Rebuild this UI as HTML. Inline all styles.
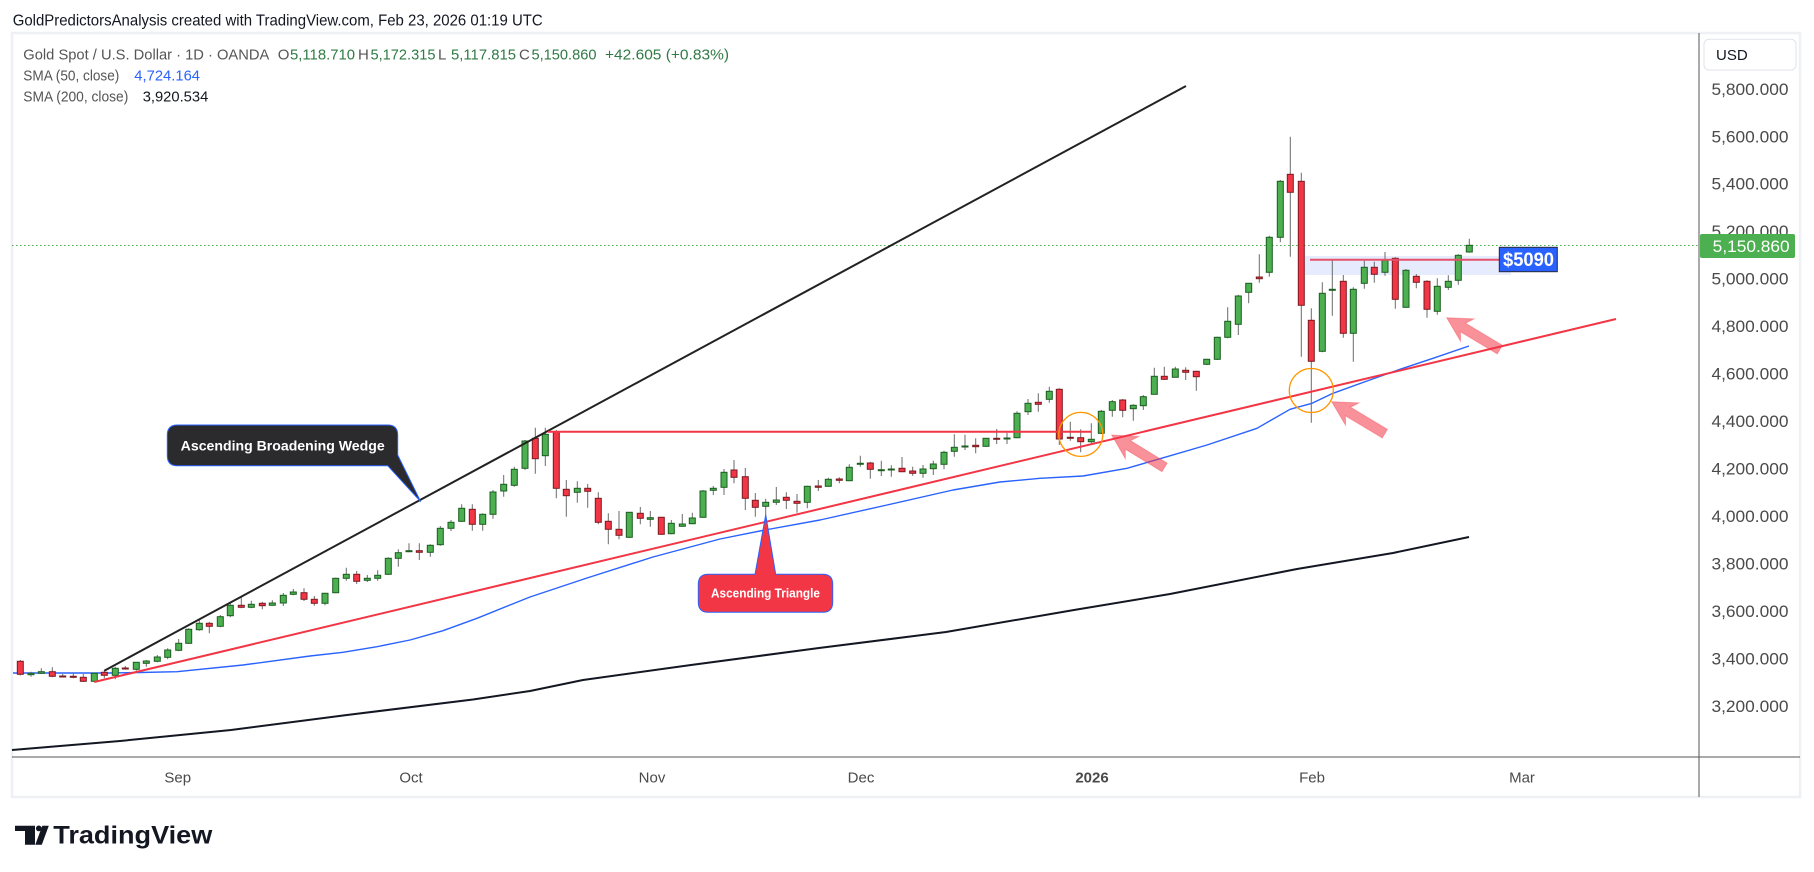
<!DOCTYPE html>
<html>
<head>
<meta charset="utf-8">
<style>
html,body{margin:0;padding:0;background:#ffffff;}
svg{display:block;font-family:"Liberation Sans",Arial,sans-serif;}
</style>
</head>
<body>
<svg width="1814" height="872" viewBox="0 0 1814 872" xmlns="http://www.w3.org/2000/svg">
<rect x="0" y="0" width="1814" height="872" fill="#ffffff"/>

<!-- header -->
<text x="12.7" y="25.5" font-size="16" fill="#131722" textLength="530" lengthAdjust="spacingAndGlyphs">GoldPredictorsAnalysis created with TradingView.com, Feb 23, 2026 01:19 UTC</text>

<!-- panel -->
<rect x="12" y="33" width="1788" height="764" fill="#ffffff" stroke="#eef0f3" stroke-width="2.5"/>

<!-- legend -->
<g font-size="15">
<text x="23.3" y="59.5" fill="#555555" textLength="246" lengthAdjust="spacingAndGlyphs">Gold Spot / U.S. Dollar · 1D · OANDA</text>
<text x="277.7" y="59.5" fill="#555555">O</text>
<text x="290" y="59.5" fill="#2f7a45" textLength="65" lengthAdjust="spacingAndGlyphs">5,118.710</text>
<text x="358" y="59.5" fill="#555555">H</text>
<text x="370.5" y="59.5" fill="#2f7a45" textLength="65" lengthAdjust="spacingAndGlyphs">5,172.315</text>
<text x="438" y="59.5" fill="#555555">L</text>
<text x="451" y="59.5" fill="#2f7a45" textLength="65" lengthAdjust="spacingAndGlyphs">5,117.815</text>
<text x="519" y="59.5" fill="#555555">C</text>
<text x="531.5" y="59.5" fill="#2f7a45" textLength="65" lengthAdjust="spacingAndGlyphs">5,150.860</text>
<text x="605" y="59.5" fill="#2f7a45" textLength="124" lengthAdjust="spacingAndGlyphs">+42.605 (+0.83%)</text>
<text x="23.3" y="80.7" fill="#555555" textLength="96" lengthAdjust="spacingAndGlyphs">SMA (50, close)</text>
<text x="134.3" y="80.7" fill="#2962ff" textLength="65.7" lengthAdjust="spacingAndGlyphs">4,724.164</text>
<text x="23.3" y="101.7" fill="#555555" textLength="105" lengthAdjust="spacingAndGlyphs">SMA (200, close)</text>
<text x="142.7" y="101.7" fill="#131722" textLength="65.6" lengthAdjust="spacingAndGlyphs">3,920.534</text>
</g>

<!-- axes lines -->
<line x1="1699" y1="33" x2="1699" y2="797" stroke="#555555" stroke-width="1"/>
<line x1="12" y1="757" x2="1800" y2="757" stroke="#555555" stroke-width="1"/>

<!-- price axis -->
<rect x="1704" y="39.3" width="92" height="30.7" rx="5" fill="#ffffff" stroke="#e0e3eb" stroke-width="1"/>
<text x="1716" y="60" font-size="15" fill="#131722">USD</text>
<g font-size="16.5" fill="#4a4a4a">
<text x="1711.5" y="94.8" textLength="77" lengthAdjust="spacingAndGlyphs">5,800.000</text>
<text x="1711.5" y="142.3" textLength="77" lengthAdjust="spacingAndGlyphs">5,600.000</text>
<text x="1711.5" y="189.7" textLength="77" lengthAdjust="spacingAndGlyphs">5,400.000</text>
<text x="1711.5" y="237.2" textLength="77" lengthAdjust="spacingAndGlyphs">5,200.000</text>
<text x="1711.5" y="284.6" textLength="77" lengthAdjust="spacingAndGlyphs">5,000.000</text>
<text x="1711.5" y="332.1" textLength="77" lengthAdjust="spacingAndGlyphs">4,800.000</text>
<text x="1711.5" y="379.6" textLength="77" lengthAdjust="spacingAndGlyphs">4,600.000</text>
<text x="1711.5" y="427" textLength="77" lengthAdjust="spacingAndGlyphs">4,400.000</text>
<text x="1711.5" y="474.5" textLength="77" lengthAdjust="spacingAndGlyphs">4,200.000</text>
<text x="1711.5" y="521.9" textLength="77" lengthAdjust="spacingAndGlyphs">4,000.000</text>
<text x="1711.5" y="569.4" textLength="77" lengthAdjust="spacingAndGlyphs">3,800.000</text>
<text x="1711.5" y="616.8" textLength="77" lengthAdjust="spacingAndGlyphs">3,600.000</text>
<text x="1711.5" y="664.3" textLength="77" lengthAdjust="spacingAndGlyphs">3,400.000</text>
<text x="1711.5" y="711.8" textLength="77" lengthAdjust="spacingAndGlyphs">3,200.000</text>
</g>
<rect x="1700" y="234" width="95" height="24" rx="2" fill="#4caf50"/>
<text x="1712.7" y="252" font-size="16.5" fill="#ffffff" textLength="77" lengthAdjust="spacingAndGlyphs">5,150.860</text>

<!-- time axis -->
<g font-size="15" fill="#4a4a4a" text-anchor="middle">
<text x="177.7" y="782.5">Sep</text>
<text x="411" y="782.5">Oct</text>
<text x="652" y="782.5">Nov</text>
<text x="861" y="782.5">Dec</text>
<text x="1092" y="782.5" font-weight="bold">2026</text>
<text x="1312" y="782.5">Feb</text>
<text x="1522" y="782.5">Mar</text>
</g>

<!-- current price dotted line -->
<line x1="12" y1="245.5" x2="1699" y2="245.5" stroke="#4caf50" stroke-width="1" stroke-dasharray="1.5 2.5"/>

<!-- resistance zone -->
<rect x="1305" y="256" width="206" height="19" fill="#e6ecfd"/>

<!-- SMA 200 -->
<polyline fill="none" stroke="#131722" stroke-width="2" stroke-linejoin="round" points="12,750 120,741 231,730 347,715 473,699.5 530,691 583,680 691,665 819,648 946,632 1074,610 1170,594 1297,569 1393,553 1469,537"/>
<!-- SMA 50 -->
<polyline fill="none" stroke="#2962ff" stroke-width="1.4" stroke-linejoin="round" points="13,673 110,673 140,672.5 177,671.7 243,665 310,656 343,652.3 377,646.7 410,640 443,630.7 477,618.3 510,605 530,597 587,578 653,557 720,539 765,530 820,520 887,505 953,490 1000,482 1040,478.3 1083,476 1127,468.3 1167,456.7 1207,445 1257,428.3 1290,409.3 1312,403.3 1333,393.3 1367,381 1400,369.3 1433,358.3 1469,346"/>

<!-- wicks -->
<path fill="none" stroke="#6a6a6a" stroke-width="1" d="M20.3 660V675.5M31 671.7V676.7M41.3 668.3V674M52.3 667.3V677.3M62.7 674V677.3M73.3 672.7V678.3M83.3 674V682M94.3 672.7V682M104.3 670V678.3M115.3 666.7V679.3M125.3 666V669.7M136.3 662.3V670.7M146.3 660V666.7M157.3 655V662.3M167.7 648.3V659.3M178.7 639V651.3M188.7 628.3V644M199.3 620V630.7M209.3 621.7V633.3M220.3 615V627.3M230.3 602.7V617.3M241.3 596V608.3M251.3 600.7V608.3M262.3 601.7V609.3M272.3 600.3V605.7M283.3 593V606M293.3 589V595.3M304 588.3V601M314.3 596V605.7M325 592.7V605.3M335.7 577.7V593.3M346.3 567.7V580.7M356.7 571V584M367.3 575V582M377.7 570.3V580.7M388.3 557.3V575M398.3 549.3V566.7M409 543.3V552.3M419.3 543.3V560M430.3 544.3V556.7M440.3 526V545.7M451 520V531M461.7 504.3V522M472.3 504.3V530.7M482.7 513.3V530.7M493 490V518.7M503.7 475V496.7M514.3 466.7V486.7M525 440V470M535.3 427.7V473.7M545.3 427.7V466M556.3 430V498.3M566.3 480V516.7M577.3 481.3V502.7M587.7 484V507.7M598.3 492.3V524.3M608.3 513.3V544.3M619 511V539.3M629.3 512.3V538M640.3 507V524.3M650.3 511V526.7M661.3 516.7V535M671.3 520V534.3M682.3 514V526.7M692.3 512.7V524.3M703 490V517.7M713.3 486V495M724 469V495M734 460V483.3M745.3 468V510M755.3 493V516.7M765.7 498.7V516.7M776.3 487V505M786.3 492.3V509M797 494V512.7M807.3 485.7V508.3M818.3 480V491M828.3 477.7V486.7M839.3 477.3V483.3M849.3 464.3V481.3M860.3 455.7V466.7M870.3 461.7V478.7M881.3 460.7V476M891.3 465.3V476.7M902 457V472.3M912.7 466.7V475.7M923 465V477.7M933.3 460.7V475M944 450.7V469.3M954.3 434.3V456.7M965 434.7V450M975.7 438.3V453.3M986 438V447M996.7 429V444M1007 432.7V444M1017 411.3V438.3M1028 399V415M1038.3 393.3V411.7M1049.3 386.7V402.7M1059.3 388.3V445M1070.3 421.7V440.7M1080.7 429.3V452.3M1091.3 423.3V443.3M1101.3 410V434M1112.3 400V416.7M1122.7 399V417.3M1133.3 404.3V420.7M1143.3 395V410M1154.3 367.7V394.3M1164.3 366.7V380M1175.3 366.7V377.3M1185.7 367.3V380M1196.3 370.7V390.7M1206.7 358.7V365M1217.3 336.7V360M1227.7 307.3V338.3M1238.3 294.7V335M1248.7 283.3V303.3M1259.3 254.3V282.7M1269.3 235.7V276.7M1280.3 180V242.3M1290.3 136.7V256.7M1301.3 172.7V356.7M1311.3 308.3V422.7M1322.3 282.3V352.3M1332.3 259.3V315.7M1343.3 275V337.7M1353.3 287.3V361.7M1364.3 260.7V288.7M1374.3 261.7V282.7M1385 252V275.7M1395.3 257.3V308.7M1406 269V307.7M1416.3 274V288.3M1427 280.3V317.7M1437.3 278.3V314.7M1448.3 275.3V290M1458.3 254.3V284.7M1469.3 238.7V252.7"/>

<!-- green bodies -->
<g fill="#4caf50" stroke="#1b5e20" stroke-width="1">
<rect x="28" y="673.3" width="6" height="1.4"/>
<rect x="38.3" y="671.7" width="6" height="1.6"/>
<rect x="91.3" y="673.3" width="6" height="8"/>
<rect x="112.3" y="668.3" width="6" height="7"/>
<rect x="133.3" y="662.3" width="6" height="7"/>
<rect x="143.3" y="661" width="6" height="2.3"/>
<rect x="154.3" y="657" width="6" height="4.3"/>
<rect x="164.7" y="650" width="6" height="7.3"/>
<rect x="175.7" y="643.3" width="6" height="7"/>
<rect x="185.7" y="629.3" width="6" height="14"/>
<rect x="196.3" y="623.3" width="6" height="6.4"/>
<rect x="217.3" y="616.7" width="6" height="9.6"/>
<rect x="227.3" y="605.3" width="6" height="10.4"/>
<rect x="248.3" y="604.3" width="6" height="3"/>
<rect x="269.3" y="603" width="6" height="2.3"/>
<rect x="280.3" y="595.3" width="6" height="7.7"/>
<rect x="290.3" y="592" width="6" height="2.3"/>
<rect x="322" y="593.3" width="6" height="10"/>
<rect x="332.7" y="578.3" width="6" height="14.4"/>
<rect x="343.3" y="574.3" width="6" height="4"/>
<rect x="364.3" y="578.3" width="6" height="2"/>
<rect x="374.7" y="575.3" width="6" height="3"/>
<rect x="385.3" y="558.3" width="6" height="16"/>
<rect x="395.3" y="552.7" width="6" height="5.6"/>
<rect x="406" y="550.7" width="6" height="1"/>
<rect x="427.3" y="545.3" width="6" height="7"/>
<rect x="437.3" y="528.3" width="6" height="16.4"/>
<rect x="448" y="522.3" width="6" height="6"/>
<rect x="458.7" y="508.3" width="6" height="13"/>
<rect x="479.7" y="514.3" width="6" height="10"/>
<rect x="490" y="492" width="6" height="22.3"/>
<rect x="500.7" y="484.3" width="6" height="6.7"/>
<rect x="511.3" y="469.3" width="6" height="16"/>
<rect x="522" y="441" width="6" height="27.3"/>
<rect x="542.3" y="434.3" width="6" height="21.4"/>
<rect x="574.3" y="488.3" width="6" height="4"/>
<rect x="626.3" y="512.3" width="6" height="25"/>
<rect x="647.3" y="517.7" width="6" height="1.6"/>
<rect x="668.3" y="523.3" width="6" height="10.4"/>
<rect x="679.3" y="524" width="6" height="2.3"/>
<rect x="689.3" y="518" width="6" height="5.7"/>
<rect x="700" y="491" width="6" height="26.3"/>
<rect x="710.3" y="488.3" width="6" height="2"/>
<rect x="721" y="472.3" width="6" height="15"/>
<rect x="762.7" y="502.3" width="6" height="4"/>
<rect x="773.3" y="500" width="6" height="2.3"/>
<rect x="804.3" y="486.3" width="6" height="16"/>
<rect x="825.3" y="479.3" width="6" height="7"/>
<rect x="846.3" y="467.3" width="6" height="13.4"/>
<rect x="857.3" y="463.3" width="6" height="1"/>
<rect x="878.3" y="469.7" width="6" height="1"/>
<rect x="888.3" y="469" width="6" height="1"/>
<rect x="920" y="469" width="6" height="4.3"/>
<rect x="930.3" y="464" width="6" height="4.7"/>
<rect x="941" y="452.3" width="6" height="12"/>
<rect x="951.3" y="447.3" width="6" height="4"/>
<rect x="962" y="446" width="6" height="1"/>
<rect x="983" y="438.3" width="6" height="8"/>
<rect x="1004" y="438" width="6" height="1"/>
<rect x="1014" y="413.3" width="6" height="24.4"/>
<rect x="1025" y="403.3" width="6" height="8.4"/>
<rect x="1046.3" y="391.3" width="6" height="8"/>
<rect x="1088.3" y="439.3" width="6" height="2.4"/>
<rect x="1098.3" y="411.3" width="6" height="22"/>
<rect x="1109.3" y="401.7" width="6" height="8.6"/>
<rect x="1130.3" y="405.3" width="6" height="3.4"/>
<rect x="1140.3" y="396.7" width="6" height="9"/>
<rect x="1151.3" y="376.3" width="6" height="18"/>
<rect x="1172.3" y="369" width="6" height="8.3"/>
<rect x="1203.7" y="359.3" width="6" height="5"/>
<rect x="1214.3" y="337.3" width="6" height="22"/>
<rect x="1224.7" y="321.3" width="6" height="16"/>
<rect x="1235.3" y="296" width="6" height="28.3"/>
<rect x="1245.7" y="283.3" width="6" height="9"/>
<rect x="1266.3" y="237.3" width="6" height="35"/>
<rect x="1277.3" y="181.3" width="6" height="56"/>
<rect x="1319.3" y="293.3" width="6" height="58"/>
<rect x="1329.3" y="289.3" width="6" height="1"/>
<rect x="1350.3" y="289.3" width="6" height="44"/>
<rect x="1361.3" y="267.3" width="6" height="16"/>
<rect x="1382" y="260.3" width="6" height="12"/>
<rect x="1403" y="270.3" width="6" height="37"/>
<rect x="1434.3" y="286.3" width="6" height="25"/>
<rect x="1445.3" y="281.3" width="6" height="6"/>
<rect x="1455.3" y="255.3" width="6" height="25"/>
<rect x="1466.3" y="245.3" width="6" height="6.7"/>
</g>

<!-- red bodies -->
<g fill="#f23645" stroke="#7c1a1f" stroke-width="1">
<rect x="17.3" y="661.3" width="6" height="13"/>
<rect x="49.3" y="671.7" width="6" height="4.6"/>
<rect x="59.7" y="676" width="6" height="1"/>
<rect x="70.3" y="676.3" width="6" height="1"/>
<rect x="80.3" y="677.3" width="6" height="4"/>
<rect x="101.3" y="672.3" width="6" height="3"/>
<rect x="122.3" y="668" width="6" height="1"/>
<rect x="206.3" y="623.3" width="6" height="3"/>
<rect x="238.3" y="605.3" width="6" height="2"/>
<rect x="259.3" y="603.3" width="6" height="2.4"/>
<rect x="301" y="592.7" width="6" height="6.6"/>
<rect x="311.3" y="599.3" width="6" height="4"/>
<rect x="353.7" y="574.3" width="6" height="7"/>
<rect x="416.3" y="550.7" width="6" height="1.6"/>
<rect x="469.3" y="509.3" width="6" height="15"/>
<rect x="532.3" y="438.3" width="6" height="20.4"/>
<rect x="553.3" y="431.7" width="6" height="56.6"/>
<rect x="563.3" y="489.3" width="6" height="6.4"/>
<rect x="584.7" y="488.3" width="6" height="3"/>
<rect x="595.3" y="498.3" width="6" height="24"/>
<rect x="605.3" y="521.3" width="6" height="8"/>
<rect x="616" y="529.3" width="6" height="6"/>
<rect x="637.3" y="513.3" width="6" height="5"/>
<rect x="658.3" y="517.3" width="6" height="17"/>
<rect x="731" y="470" width="6" height="7.3"/>
<rect x="742.3" y="476.7" width="6" height="21.6"/>
<rect x="752.3" y="500.3" width="6" height="7"/>
<rect x="783.3" y="497.3" width="6" height="3"/>
<rect x="794" y="501.3" width="6" height="2"/>
<rect x="815.3" y="486" width="6" height="1.3"/>
<rect x="836.3" y="479" width="6" height="1.3"/>
<rect x="867.3" y="463" width="6" height="6.3"/>
<rect x="899" y="468.3" width="6" height="3.4"/>
<rect x="909.7" y="471" width="6" height="2.3"/>
<rect x="972.7" y="445.3" width="6" height="1.4"/>
<rect x="993.7" y="438.3" width="6" height="1"/>
<rect x="1035.3" y="402.3" width="6" height="2"/>
<rect x="1056.3" y="389.3" width="6" height="49.7"/>
<rect x="1067.3" y="437.3" width="6" height="1"/>
<rect x="1077.7" y="437.7" width="6" height="4"/>
<rect x="1119.7" y="400" width="6" height="10.3"/>
<rect x="1161.3" y="376.3" width="6" height="3"/>
<rect x="1182.7" y="370.3" width="6" height="2"/>
<rect x="1193.3" y="371.3" width="6" height="5.4"/>
<rect x="1256.3" y="277" width="6" height="1.7"/>
<rect x="1287.3" y="174.3" width="6" height="18"/>
<rect x="1298.3" y="181.3" width="6" height="124"/>
<rect x="1308.3" y="320.3" width="6" height="41"/>
<rect x="1340.3" y="281.3" width="6" height="52"/>
<rect x="1371.3" y="267.3" width="6" height="7"/>
<rect x="1392.3" y="258.3" width="6" height="41"/>
<rect x="1413.3" y="276.3" width="6" height="6"/>
<rect x="1424" y="281.3" width="6" height="28"/>
</g>

<!-- drawings -->
<line x1="104.3" y1="670.7" x2="1186" y2="86" stroke="#222222" stroke-width="2"/>
<line x1="94.3" y1="682" x2="1616" y2="319" stroke="#f23645" stroke-width="2"/>
<line x1="548" y1="431.7" x2="1091" y2="431.7" stroke="#f23645" stroke-width="2"/>
<line x1="1310" y1="259.7" x2="1499" y2="259.7" stroke="#e5506a" stroke-width="2"/>

<circle cx="1080.8" cy="434.4" r="22" fill="none" stroke="#ff9800" stroke-width="1.3"/>
<circle cx="1311.3" cy="390.5" r="22" fill="none" stroke="#ff9800" stroke-width="1.3"/>

<!-- arrows -->
<g fill="#f23645" fill-opacity="0.55" stroke="#f23645" stroke-opacity="0.35" stroke-width="1">
<polygon transform="translate(1111.7,435) rotate(31.5)" points="0,0 24,-13 19,-5 62,-5 62,5 19,5 24,13"/>
<polygon transform="translate(1331.7,401.7) rotate(31)" points="0,0 24,-13 19,-5 62,-5 62,5 19,5 24,13"/>
<polygon transform="translate(1446.7,317.7) rotate(31)" points="0,0 24,-13 19,-5 62,-5 62,5 19,5 24,13"/>
</g>

<!-- $5090 label -->
<rect x="1499.3" y="247.3" width="58" height="24.4" fill="#2962ff" stroke="#2b2b3a" stroke-width="1"/>
<text x="1503" y="266" font-size="19" font-weight="bold" fill="#ffffff" textLength="51" lengthAdjust="spacingAndGlyphs">$5090</text>

<!-- wedge callout -->
<path d="M177.3 425H387.7Q397.7 425 397.7 435V455L420.7 501.7L387.7 465.7H177.3Q167.3 465.7 167.3 455.7V435Q167.3 425 177.3 425Z" fill="#2b2b2e" stroke="#2962ff" stroke-width="1"/>
<text x="180.7" y="450.5" font-size="14" font-weight="bold" fill="#ffffff" textLength="204" lengthAdjust="spacingAndGlyphs">Ascending Broadening Wedge</text>

<!-- triangle callout -->
<path d="M708.3 574.3H755L765.7 515L775.7 574.3H822.7Q832.7 574.3 832.7 584.3V602.3Q832.7 612.3 822.7 612.3H708.3Q698.3 612.3 698.3 602.3V584.3Q698.3 574.3 708.3 574.3Z" fill="#f23645" stroke="#2962ff" stroke-width="1"/>
<text x="711" y="597.5" font-size="13" font-weight="bold" fill="#ffffff" textLength="109" lengthAdjust="spacingAndGlyphs">Ascending Triangle</text>

<!-- TradingView logo -->
<g fill="#131722">
<path d="M15 825.7H35V844.7H25V831H15Z"/>
<circle cx="38.8" cy="828.4" r="2.9"/>
<polygon points="42.3,825.7 48.8,825.7 41.8,844.7 35.3,844.7"/>
</g>
<text x="53.3" y="843.3" font-size="25" font-weight="bold" fill="#131722" textLength="159" lengthAdjust="spacingAndGlyphs">TradingView</text>
</svg>
</body>
</html>
